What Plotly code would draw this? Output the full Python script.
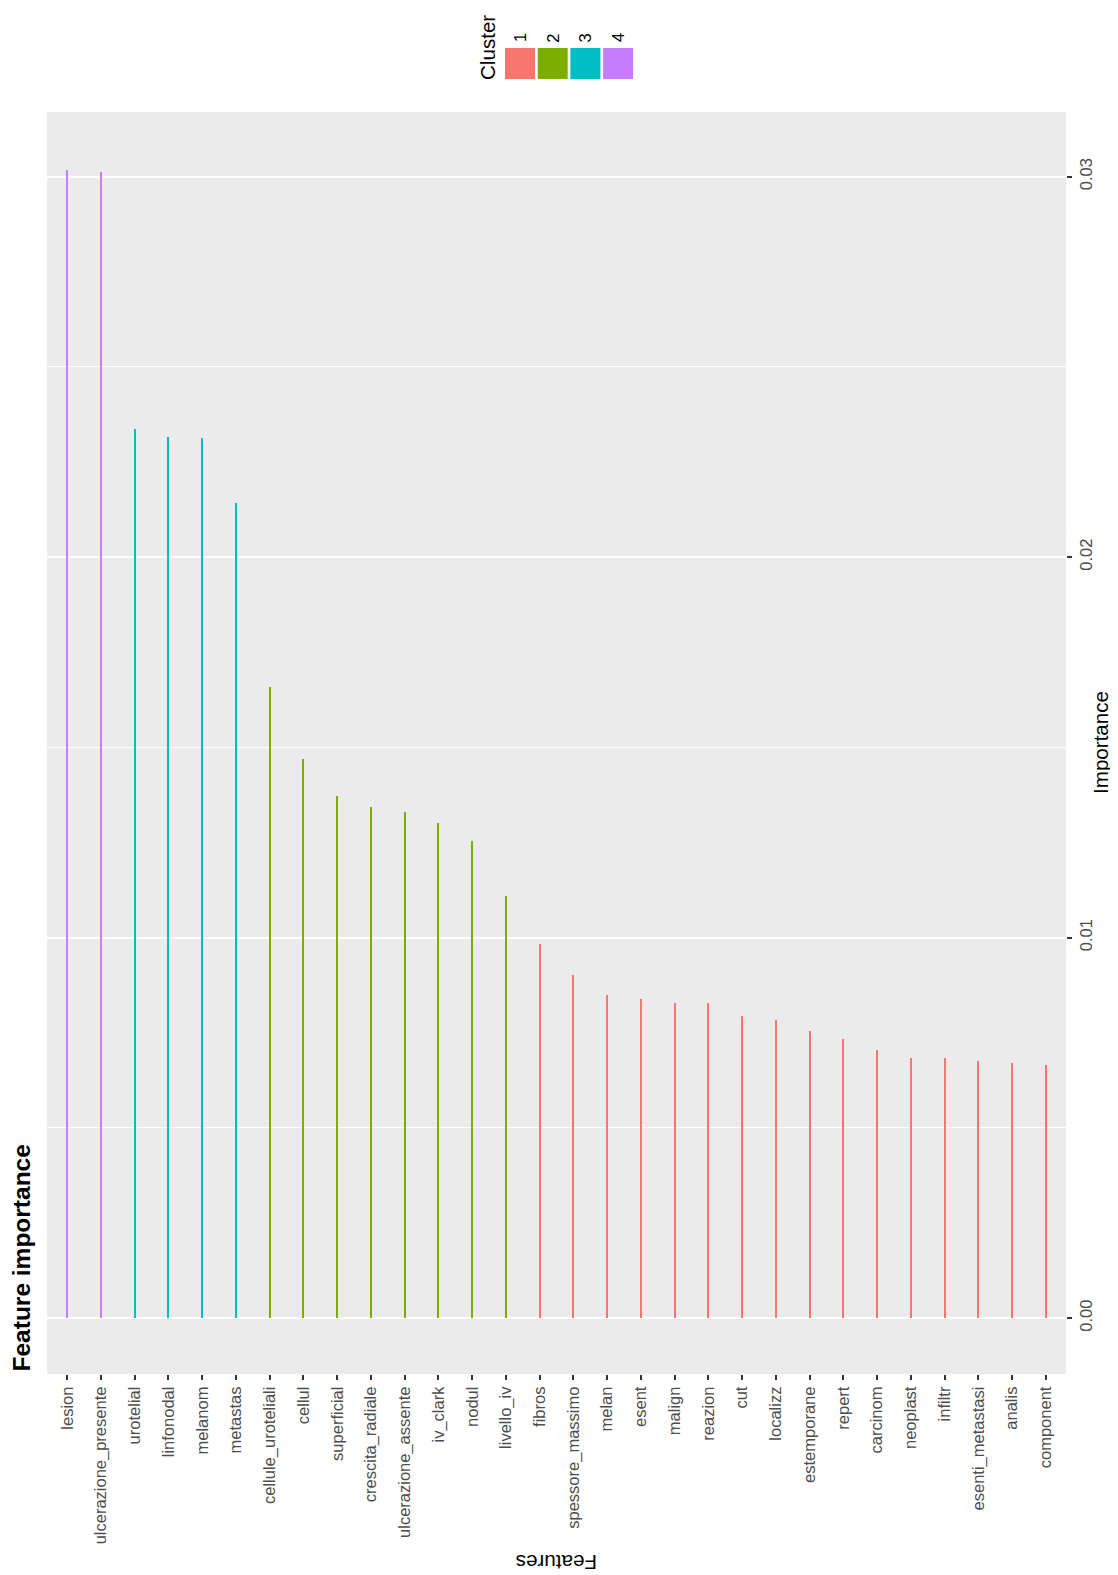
import plotly.graph_objects as go

features = ["lesion", "ulcerazione_presente", "urotelial", "linfonodal", "melanom", "metastas",
            "cellule_uroteliali", "cellul", "superficial", "crescita_radiale", "ulcerazione_assente",
            "iv_clark", "nodul", "livello_iv", "fibros", "spessore_massimo", "melan", "esent",
            "malign", "reazion", "cut", "localizz", "estemporane", "repert", "carcinom",
            "neoplast", "infiltr", "esenti_metastasi", "analis", "component"]
importance = [0.03018, 0.03013, 0.02337, 0.02316, 0.02313, 0.02142,
              0.01659, 0.01470, 0.01372, 0.01343, 0.01330,
              0.01301, 0.01254, 0.01109, 0.00983, 0.00902, 0.00849, 0.00839,
              0.00828, 0.00828, 0.00794, 0.00783, 0.00754, 0.00733, 0.00705,
              0.00683, 0.00683, 0.00676, 0.00670, 0.00665]
cluster = [4, 4, 3, 3, 3, 3, 2, 2, 2, 2, 2, 2, 2, 2,
           1, 1, 1, 1, 1, 1, 1, 1, 1, 1, 1, 1, 1, 1, 1, 1]
cluster_names = ["1", "2", "3", "4"]
cluster_colors = {"1": "#F8766D", "2": "#7CAE00", "3": "#00BFC4", "4": "#C77CFF"}
y_ticks = [0.00, 0.01, 0.02, 0.03]
y_tick_labels = ["0.00", "0.01", "0.02", "0.03"]

OFF = 8  # page body margin
W, H = 1118 - OFF, 1575 - OFF
# panel edges in page pixels
PL, PR, PT, PB = 47, 1066, 112, 1374
L, R, T, B = PL - OFF, PR - OFF, PT - OFF, PB - OFF
FONT = "Liberation Sans, Arial, Helvetica, sans-serif"


def px(x):  # page pixel -> paper x
    return (x - PL) / (PR - PL)


def py(y):  # page pixel -> paper y
    return (PB - y) / (PB - PT)


fig = go.Figure()
for c in cluster_names:
    xs = [f for f, k in zip(features, cluster) if str(k) == c]
    ys = [v for v, k in zip(importance, cluster) if str(k) == c]
    fig.add_trace(go.Bar(x=xs, y=ys, width=0.06, marker=dict(color=cluster_colors[c], line=dict(width=0)),
                         showlegend=False, name=c))

fig.update_layout(
    width=W, height=H,
    margin=dict(l=L, r=W - R, t=T, b=H - B, autoexpand=False),
    paper_bgcolor="white", plot_bgcolor="#EBEBEB",
    font=dict(family=FONT, color="#4D4D4D"),
    bargap=0,
    showlegend=False,
)
fig.update_xaxes(
    type="category", categoryorder="array", categoryarray=features,
    range=[-0.6, len(features) - 0.4],
    tickangle=-90, tickfont=dict(size=16.5, color="#4D4D4D"),
    ticks="outside", ticklen=5, tickwidth=1.5, tickcolor="#333333",
    showgrid=False, zeroline=False, showline=False,
)
fig.update_yaxes(
    side="right", range=[-0.00147, 0.0317],
    tickvals=y_ticks, ticktext=y_tick_labels, tickangle=-90,
    tickfont=dict(size=16.5, color="#4D4D4D"),
    ticks="outside", ticklen=5, tickwidth=1.5, tickcolor="#333333",
    showgrid=True, gridcolor="white", gridwidth=1.8,
    minor=dict(tickvals=[0.005, 0.015, 0.025], showgrid=True, gridcolor="white", gridwidth=0.9, ticks=""),
    zeroline=False, showline=False,
)

ann = []
ann.append(dict(text="<b>Feature importance</b>", x=px(21), y=0, xref="paper", yref="paper",
                xanchor="center", yanchor="bottom", textangle=-90, showarrow=False,
                font=dict(size=24.5, color="black", family=FONT)))
ann.append(dict(text="Features", x=0.5, y=py(1563), xref="paper", yref="paper",
                xanchor="center", yanchor="middle", textangle=180, showarrow=False,
                font=dict(size=20.6, color="black", family=FONT)))
ann.append(dict(text="Importance", x=px(1100), y=0.5, xref="paper", yref="paper",
                xanchor="center", yanchor="middle", textangle=-90, showarrow=False,
                font=dict(size=20.6, color="black", family=FONT)))
ann.append(dict(text="Cluster", x=px(487), y=py(48), xref="paper", yref="paper",
                xanchor="center", yanchor="middle", textangle=-90, showarrow=False,
                font=dict(size=20.6, color="black", family=FONT)))

shapes = []
for i, c in enumerate(cluster_names):
    x0 = 505 + i * 32.7
    shapes.append(dict(type="rect", xref="paper", yref="paper",
                       x0=px(x0), x1=px(x0 + 30), y0=py(79), y1=py(48),
                       fillcolor=cluster_colors[c], line=dict(width=0)))
    ann.append(dict(text=c, x=px(x0 + 15), y=py(38), xref="paper", yref="paper",
                    xanchor="center", yanchor="middle", textangle=-90, showarrow=False,
                    font=dict(size=16.5, color="black", family=FONT)))

fig.update_layout(annotations=ann, shapes=shapes)
fig.write_html("out.html")
